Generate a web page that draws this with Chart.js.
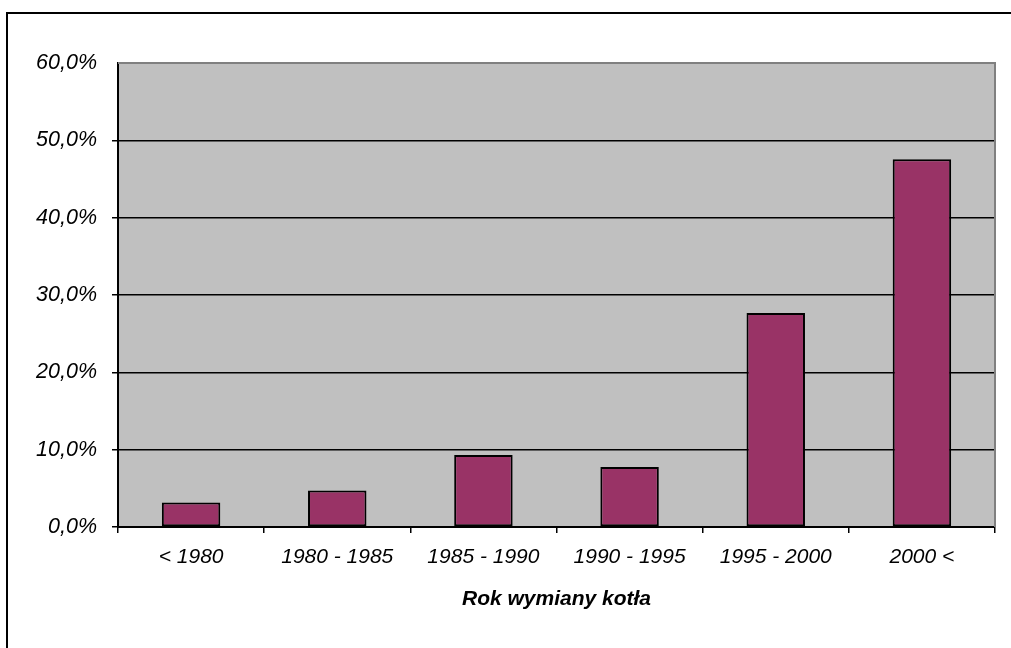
<!DOCTYPE html>
<html>
<head>
<meta charset="utf-8">
<script src="https://cdn.jsdelivr.net/npm/chart.js@4"></script>
<style>
  html, body { margin: 0; padding: 0; background: #ffffff; overflow: hidden; }
  #wrap { position: relative; width: 1011px; height: 648px; }
</style>
</head>
<body>
<div id="wrap"><canvas id="c" width="1011" height="648"></canvas></div>
<script>
const categories = ['< 1980', '1980 - 1985', '1985 - 1990', '1990 - 1995', '1995 - 2000', '2000 <'];
const shares = [3.16, 4.71, 9.31, 7.76, 27.67, 47.55];
const yTicks = [0, 10, 20, 30, 40, 50, 60];
const axisTitle = 'Rok wymiany kotła';

const FONT = '"Liberation Sans", Arial, sans-serif';

const frame = {
  id: 'frame',
  beforeDraw(chart) {
    const { ctx, chartArea: a } = chart;
    ctx.save();
    ctx.fillStyle = '#ffffff';
    ctx.fillRect(0, 0, chart.width, chart.height);
    ctx.fillStyle = '#000000';
    ctx.fillRect(6, 12, chart.width - 6, 2);
    ctx.fillRect(6, 12, 2, chart.height - 12);
    ctx.fillStyle = '#C0C0C0';
    ctx.fillRect(a.left, a.top, a.right - a.left, a.bottom - a.top);
    ctx.restore();
  },
  beforeDatasetsDraw(chart) {
    const { ctx, chartArea: a } = chart;
    ctx.save();
    ctx.strokeStyle = '#808080';
    ctx.lineWidth = 2;
    ctx.beginPath();
    ctx.moveTo(a.left, a.top);
    ctx.lineTo(a.right, a.top);
    ctx.lineTo(a.right, a.bottom);
    ctx.stroke();
    ctx.restore();
  }
};

new Chart(document.getElementById('c'), {
  type: 'bar',
  data: {
    labels: categories,
    datasets: [{
      data: shares,
      backgroundColor: '#993366',
      borderColor: '#000000',
      borderWidth: 2,
      borderSkipped: false,
      barPercentage: 0.4,
      categoryPercentage: 1.0
    }]
  },
  options: {
    responsive: false,
    animation: false,
    devicePixelRatio: 1,
    layout: { padding: { top: 63, right: 16, bottom: 0, left: 0 } },
    plugins: {
      legend: { display: false },
      tooltip: { enabled: false },
      title: { display: false }
    },
    scales: {
      x: {
        afterFit(scale) { scale.height = 121; },
        grid: {
          offset: true,
          drawOnChartArea: false,
          drawTicks: true,
          tickLength: 6,
          color: '#000000',
          lineWidth: 1.5
        },
        border: { display: true, color: '#000000', width: 2 },
        ticks: {
          color: '#000000',
          font: { family: FONT, size: 21, style: 'italic' },
          padding: 12,
          maxRotation: 0,
          autoSkip: false
        },
        title: {
          display: true,
          text: axisTitle,
          color: '#000000',
          font: { family: FONT, size: 21, style: 'italic', weight: 'bold' },
          padding: { top: 0, bottom: 36 }
        }
      },
      y: {
        min: 0,
        max: 60,
        afterFit(scale) { scale.width = 118; },
        afterBuildTicks(scale) { scale.ticks = yTicks.map(v => ({ value: v })); },
        grid: {
          drawTicks: true,
          tickLength: 6,
          color: ctx => (ctx.tick && ctx.tick.value === 60) ? 'rgba(0,0,0,0)' : '#000000',
          lineWidth: 1.5
        },
        border: { display: true, color: '#000000', width: 2 },
        ticks: {
          color: '#000000',
          font: { family: FONT, size: 21.5, style: 'italic' },
          padding: 15,
          callback: v => v.toFixed(1).replace('.', ',') + '%'
        }
      }
    }
  },
  plugins: [frame]
});
</script>
</body>
</html>
